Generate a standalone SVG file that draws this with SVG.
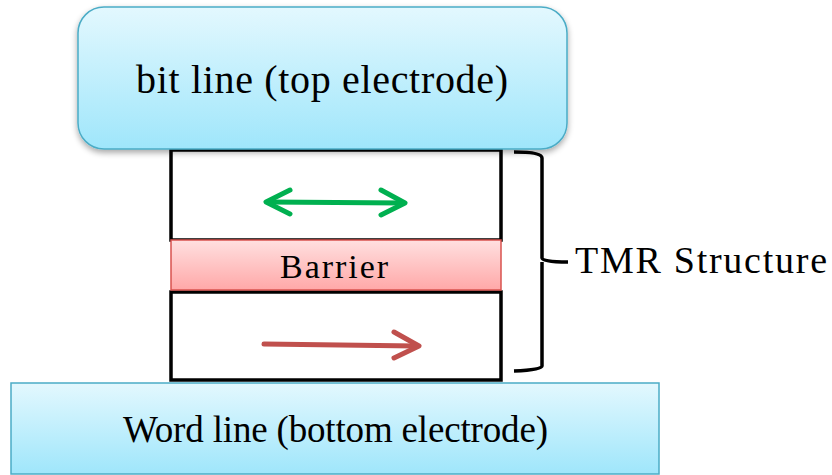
<svg xmlns="http://www.w3.org/2000/svg" width="832" height="475" viewBox="0 0 832 475">
<defs>
<linearGradient id="blue" x1="0" y1="0" x2="0" y2="1">
<stop offset="0" stop-color="#e3f8fe"/>
<stop offset="1" stop-color="#9fe6fb"/>
</linearGradient>
<linearGradient id="pink" x1="0" y1="0" x2="0" y2="1">
<stop offset="0" stop-color="#ffe0e0"/>
<stop offset="1" stop-color="#ffa8a8"/>
</linearGradient>
<filter id="sh" x="-10%" y="-10%" width="120%" height="130%">
<feGaussianBlur in="SourceAlpha" stdDeviation="3"/>
<feOffset dx="0" dy="3"/>
<feComponentTransfer><feFuncA type="linear" slope="0.35"/></feComponentTransfer>
<feMerge><feMergeNode/><feMergeNode in="SourceGraphic"/></feMerge>
</filter>
</defs>
<g id="bottom-electrode">
<rect fill="url(#blue)" stroke="#4bacc6" stroke-width="1.5" x="11" y="383" width="648" height="91"/>
<text font-family="Liberation Serif" x="123" y="442" font-size="37" textLength="425" lengthAdjust="spacing">Word line (bottom electrode)</text>
</g>
<g id="free-layer">
<rect fill="#fff" stroke="#000" stroke-width="3.5" x="171" y="150" width="330" height="90"/>
</g>
<g id="fixed-layer">
<rect fill="#fff" stroke="#000" stroke-width="3.5" x="171" y="292" width="330" height="88"/>
</g>
<g id="barrier">
<rect x="171" y="240" width="330" height="50" fill="url(#pink)" stroke="#d9534f" stroke-width="1.5"/>
<text font-family="Liberation Serif" x="280" y="278" font-size="34" textLength="108" lengthAdjust="spacing">Barrier</text>
</g>
<g id="top-electrode">
<rect fill="url(#blue)" stroke="#4bacc6" stroke-width="1.5" x="78" y="7" width="489" height="142" rx="26" filter="url(#sh)"/>
<text font-family="Liberation Serif" x="136" y="93" font-size="40" textLength="372" lengthAdjust="spacing">bit line (top electrode)</text>
</g>
<g id="connectors">
<g fill="none" stroke="#00b050" stroke-width="5" stroke-linecap="round" stroke-linejoin="round">
<line x1="268" y1="202" x2="403" y2="203"/>
<polyline points="290,190 266,202 290,214"/>
<polyline points="381,190 405,203 381,215"/>
</g>
<g fill="none" stroke="#c0504d" stroke-width="5" stroke-linecap="round" stroke-linejoin="round">
<line x1="264" y1="344" x2="416" y2="346"/>
<polyline points="394,332 419,346 394,358"/>
</g>
<path d="M514,152 Q542,152 542,158 L542,258 Q542,262 568,262 M542,262 Q542,266 542,270 L542,366 Q542,370 514,371" fill="none" stroke="#000" stroke-width="3.5" stroke-linejoin="round"/>
</g>
<g id="label-tmr">
<text font-family="Liberation Serif" x="575" y="273" font-size="38" textLength="252" lengthAdjust="spacing">TMR Structure</text>
</g>
</svg>
